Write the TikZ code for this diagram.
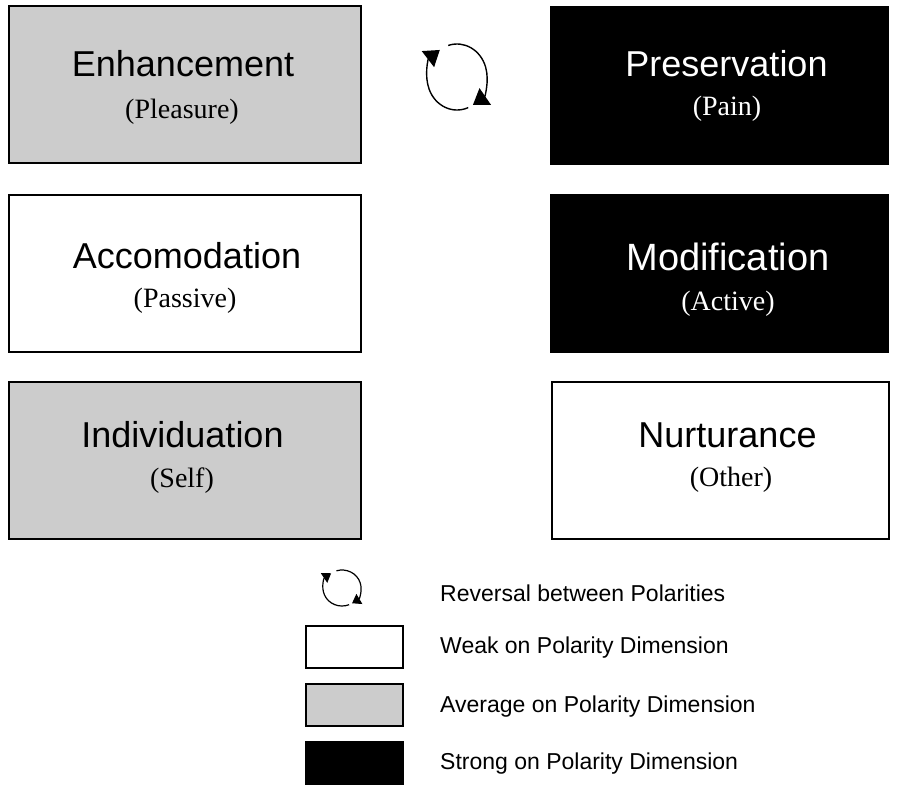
\documentclass[tikz,border=0pt]{standalone}
\usepackage{fontspec}
\setmainfont{Liberation Sans}
\newfontfamily\subface{Liberation Serif}
\usetikzlibrary{arrows.meta}
\definecolor{avggray}{RGB}{204,204,204}
\begin{document}
\begin{tikzpicture}[x=1pt,y=-1pt,
  panel/.style={draw=black, line width=2pt, inner sep=0pt, outer sep=0pt,
    minimum width=352pt, minimum height=157pt},
  rpanel/.style={panel, minimum width=337pt},
  keybox/.style={draw=black, line width=2pt, inner sep=0pt, outer sep=0pt,
    minimum width=97pt, minimum height=42pt},
  title/.style={inner sep=0pt, anchor=base, font=\fontsize{36}{40}\selectfont},
  bigtitle/.style={title, font=\fontsize{38}{44}\selectfont},
  sub/.style={inner sep=0pt, anchor=base, font=\subface\fontsize{28}{32}\selectfont},
  keytext/.style={inner sep=0pt, anchor=base west, font=\fontsize{23}{26}\selectfont},
  revbig/.style={line width=1.4pt, -{Triangle[length=15pt,width=20pt]}},
  revsmall/.style={line width=1.2pt, -{Triangle[length=8.5pt,width=11.5pt]}}
]
\useasboundingbox (0,0) rectangle (897,785);

% panels
\node[panel, fill=avggray] (enh) at (185,84.5) {};
\node[rpanel, fill=black] (pres) at (719.5,85) {};
\node[panel, fill=white] (acc) at (185,273.5) {};
\node[rpanel, fill=black] (mod) at (719.5,273) {};
\node[panel, fill=avggray] (ind) at (185,460) {};
\node[rpanel, fill=white] (nur) at (720.5,460) {};

% texts
\node[title] (enhT) at (183,76) {Enhancement};
\node[sub] (enhS) at (182,118) {(Pleasure)};
\node[title, text=white] (presT) at (726.5,76) {Preservation};
\node[sub, text=white] (presS) at (727,115) {(Pain)};
\node[title] (accT) at (187,268) {Accomodation};
\node[sub] (accS) at (185,307) {(Passive)};
\node[bigtitle, text=white] (modT) at (728,270) {Modification};
\node[sub, text=white] (modS) at (728,310) {(Active)};
\node[title] (indT) at (182.5,447) {Individuation};
\node[sub] (indS) at (182,487) {(Self)};
\node[title] (nurT) at (727.5,447) {Nurturance};
\node[sub] (nurS) at (731,486) {(Other)};

% reversal icon (top)
\coordinate (revc) at (457,77);
\draw[revbig] ([shift={(107:30pt and 33pt)}]revc)
  arc[start angle=107, end angle=-58, x radius=30pt, y radius=33pt];
\draw[revbig] ([shift={(-68:30pt and 33pt)}]revc)
  arc[start angle=-68, end angle=-235, x radius=30pt, y radius=33pt];

% legend
\coordinate (keyc) at (342,588);
\draw[revsmall] ([shift={(107:19pt and 18pt)}]keyc)
  arc[start angle=107, end angle=-58, x radius=19pt, y radius=18pt];
\draw[revsmall] ([shift={(-68:19pt and 18pt)}]keyc)
  arc[start angle=-68, end angle=-235, x radius=19pt, y radius=18pt];
\node[keytext] (k1) at (440,601) {Reversal between Polarities};

\node[keybox, fill=white] (kw) at (354.5,647) {};
\node[keytext] (k2) at (440,653) {Weak on Polarity Dimension};
\node[keybox, fill=avggray] (ka) at (354.5,704.5) {};
\node[keytext] (k3) at (440,712) {Average on Polarity Dimension};
\node[keybox, fill=black] (ks) at (354.5,763) {};
\node[keytext] (k4) at (440,769) {Strong on Polarity Dimension};
\end{tikzpicture}
\end{document}
